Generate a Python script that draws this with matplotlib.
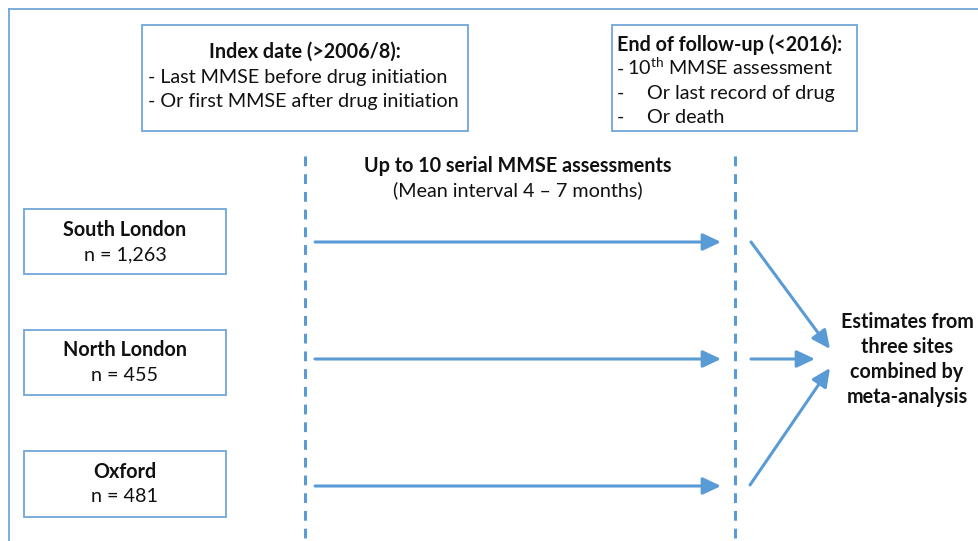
import matplotlib
matplotlib.use("Agg")
import matplotlib.pyplot as plt
from matplotlib.patches import Rectangle, FancyArrowPatch

plt.rcParams['font.family'] = ['Lato', 'DejaVu Sans']

# texts of the diagram
index_title = "Index date (>2006/8):"
index_lines = ["- Last MMSE before drug initiation",
               "- Or first MMSE after drug initiation"]
end_title = "End of follow-up (<2016):"
end_lines = [r"10$^{\mathregular{th}}$ MMSE assessment",
             "Or last record of drug",
             "Or death"]
period_title = "Up to 10 serial MMSE assessments"
period_sub = "(Mean interval 4 \u2013 7 months)"
sites = ["South London", "North London", "Oxford"]
site_n = ["1,263", "455", "481"]
result_lines = ["Estimates from", "three sites", "combined by", "meta-analysis"]

blue = "#5B9BD5"
box_edge = "#6FA6DA"
txt = "#111111"

fig = plt.figure(figsize=(9.79, 5.41), dpi=100)
ax = fig.add_axes([0, 0, 1, 1])
ax.set_xlim(0, 979)
ax.set_ylim(541, 0)
ax.axis("off")

# outer frame (left and top only)
ax.plot([9, 9], [541, 9], color=box_edge, lw=1.3)
ax.plot([9, 979], [9, 9], color=box_edge, lw=1.3)

def box(x0, y0, x1, y1):
    ax.add_patch(Rectangle((x0, y0), x1 - x0, y1 - y0, fill=False,
                           ec=box_edge, lw=1.3))

fs = 14.2

# index date box
box(142, 25, 468, 131)
ax.text(305, 52, index_title, ha="center", va="center", fontsize=fs,
        fontweight="bold", color=txt)
for i, s in enumerate(index_lines):
    ax.text(148, 77 + i * 25, s, ha="left", va="center", fontsize=fs, color=txt)

# end of follow-up box
box(612, 25, 857, 131)
ax.text(617, 45, end_title, ha="left", va="center", fontsize=fs,
        fontweight="bold", color=txt)
for i, s in enumerate(end_lines):
    y = 75 + i * 24
    ax.text(617, y, "-", ha="left", va="baseline", fontsize=fs, color=txt)
    ax.text(627 if i == 0 else 647, y, s, ha="left", va="baseline",
            fontsize=fs, color=txt)

# dashed period lines
for x in [305, 735]:
    ax.plot([x, x], [156, 541], color=blue, lw=2.2, ls=(0, (3.2, 2.6)))

ax.text(518, 166, period_title, ha="center", va="center", fontsize=fs,
        fontweight="bold", color=txt)
ax.text(518, 190, period_sub, ha="center", va="center", fontsize=fs, color=txt)

def arrow(p0, p1):
    ax.add_patch(FancyArrowPatch(p0, p1, arrowstyle="-|>,head_length=0.55,head_width=0.26",
                                 mutation_scale=20, color=blue, lw=2.2,
                                 shrinkA=0, shrinkB=0))

site_box_y = [(209, 274), (330, 395), (451, 517)]
arrow_y = [242, 359, 486]
for name, n, (y0, y1), ay in zip(sites, site_n, site_box_y, arrow_y):
    box(24, y0, 226, y1)
    cy = (y0 + y1) / 2
    ax.text(125, cy - 12, name, ha="center", va="center", fontsize=fs,
            fontweight="bold", color=txt)
    ax.text(125, cy + 13, "n = " + n, ha="center", va="center",
            fontsize=fs, color=txt)
    arrow((315, ay), (721, ay))

# converging arrows to the result
arrow((751, 242), (830, 349))
arrow((751, 359), (815, 359))
arrow((750, 485), (830, 368))

for i, s in enumerate(result_lines):
    ax.text(907, 322 + i * 25, s, ha="center", va="center", fontsize=fs,
            fontweight="bold", color=txt)

fig.savefig("out.png", dpi=100)
